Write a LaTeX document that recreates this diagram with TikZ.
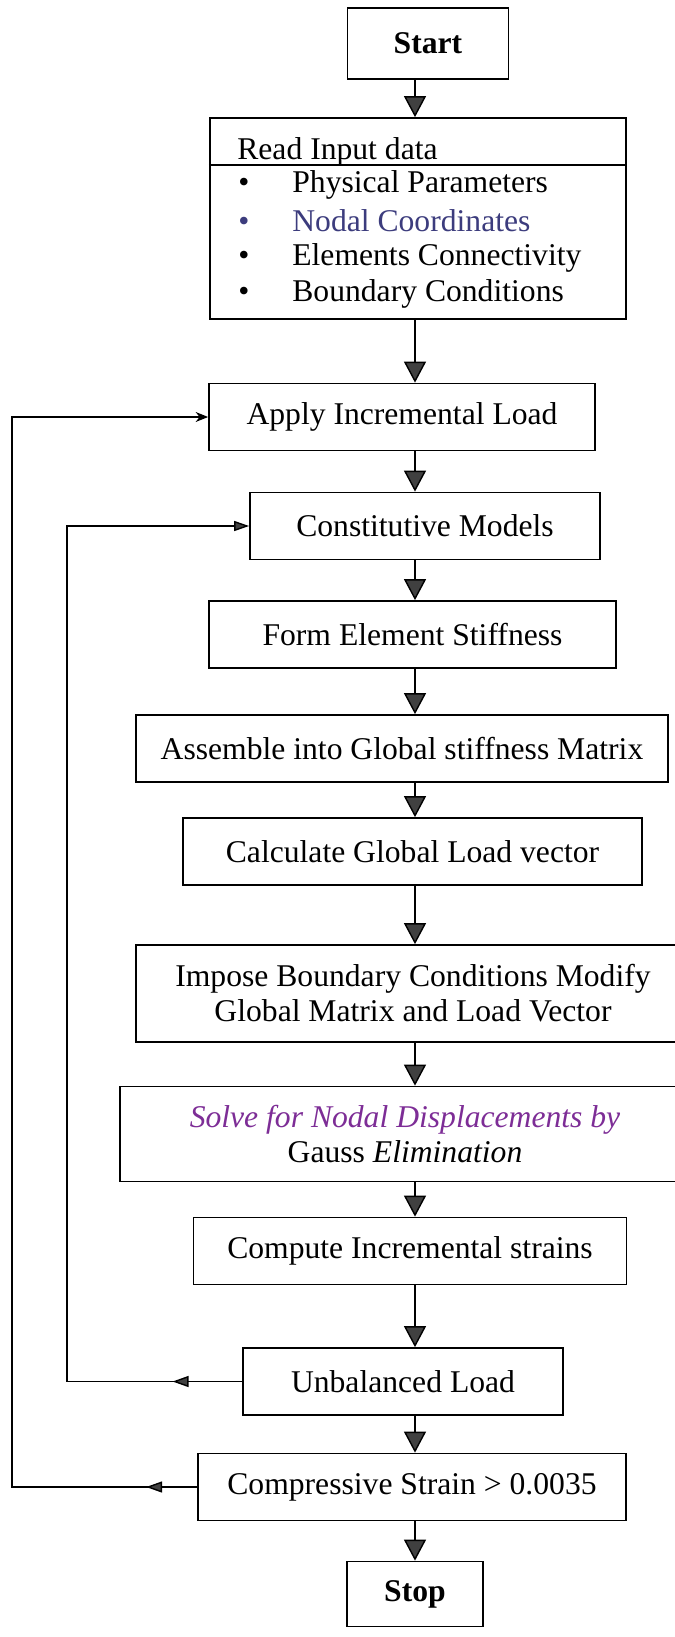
\documentclass[tikz,border=0pt]{standalone}
\usepackage{fontspec}
\setmainfont{Liberation Serif}
\usepackage{tikz}
\usetikzlibrary{arrows.meta,decorations.markings}

\definecolor{arrowgray}{RGB}{64,64,64}
\definecolor{nodalblue}{RGB}{60,60,125}
\definecolor{solvepurple}{RGB}{125,45,150}

\tikzstyle{box} = [draw,line width=1pt,minimum height=1.34cm,align=center,inner sep=2pt,font=\fontsize{18}{20}\selectfont]
\tikzstyle{arrow} = [line width=0.8pt,-{Triangle[width=0.44cm,length=0.42cm,fill=arrowgray]}]
\tikzstyle{backline} = [line width=0.8pt]
\tikzset{backmid/.style={postaction={decorate},decoration={markings,mark=at position #1 with {\arrow{Triangle[width=0.22cm,length=0.32cm,fill=arrowgray]}}}}}

\begin{document}
\begin{tikzpicture}
	\useasboundingbox (0,0) rectangle (13.48,-32.74);

	\node[box,minimum width=3.22cm,minimum height=1.42cm,font=\bfseries\fontsize{18}{20}\selectfont] (start) at (8.56,-0.87) {Start};

	% input data block
	\node[draw,line width=1pt,minimum width=8.33cm,minimum height=4.02cm] (read) at (8.36,-4.37) {};
	\coordinate (sep) at (0,-3.3);
	\draw[line width=1pt] (read.west |- sep) -- (read.east |- sep);
	\node[anchor=base west,inner sep=0pt,font=\fontsize{18}{20}\selectfont] (readhead) at (4.74,-3.2) {Read Input data};
	\node[anchor=west,inner sep=0pt,font=\fontsize{18}{20}\selectfont] (phys) at (4.76,-3.7) {\makebox[1.08cm][l]{\textbullet}Physical Parameters};
	\node[anchor=west,inner sep=0pt,font=\fontsize{18}{20}\selectfont] (nodal) at (4.76,-4.42) {\makebox[1.08cm][l]{\color{nodalblue}\textbullet}\color{nodalblue}Nodal Coordinates};
	\node[anchor=west,inner sep=0pt,font=\fontsize{18}{20}\selectfont] (conn) at (4.76,-5.15) {\makebox[1.08cm][l]{\textbullet}Elements Connectivity};
	\node[anchor=west,inner sep=0pt,font=\fontsize{18}{20}\selectfont] (bound) at (4.76,-5.88) {\makebox[1.08cm][l]{\textbullet}Boundary Conditions};

	\node[box,minimum width=7.72cm] (apply) at (8.04,-8.34) {Apply Incremental Load};
	\node[box,minimum width=7.0cm] (const) at (8.5,-10.52) {Constitutive Models};
	\node[box,minimum width=8.14cm] (form) at (8.25,-12.69) {Form Element Stiffness};
	\node[box,minimum width=10.64cm] (assem) at (8.04,-14.97) {Assemble into Global stiffness Matrix};
	\node[box,minimum width=9.18cm] (calc) at (8.25,-17.03) {Calculate Global Load vector};
	\node[box,minimum width=11.08cm,minimum height=1.94cm] (impose) at (8.26,-19.87) {Impose Boundary Conditions Modify\\Global Matrix and Load Vector};
	\node[box,minimum width=11.4cm,minimum height=1.9cm] (solve) at (8.1,-22.68) {\textit{\color{solvepurple}Solve for Nodal Displacements by}\\Gauss \textit{Elimination}};
	\node[box,minimum width=8.66cm] (compute) at (8.2,-25.02) {Compute Incremental strains};
	\node[box,minimum width=6.4cm] (unbal) at (8.06,-27.63) {Unbalanced Load};
	\node[box,minimum width=8.56cm] (compr) at (8.24,-29.74) {Compressive Strain > 0.0035};
	\node[box,minimum width=2.72cm,minimum height=1.3cm,font=\bfseries\fontsize{18}{20}\selectfont] (stop) at (8.3,-31.88) {Stop};

	% main flow
	\coordinate (spine) at (8.3,0);
	\draw[arrow] (start.south -| spine) -- (read.north -| spine);
	\draw[arrow] (read.south -| spine) -- (apply.north -| spine);
	\draw[arrow] (apply.south -| spine) -- (const.north -| spine);
	\draw[arrow] (const.south -| spine) -- (form.north -| spine);
	\draw[arrow] (form.south -| spine) -- (assem.north -| spine);
	\draw[arrow] (assem.south -| spine) -- (calc.north -| spine);
	\draw[arrow] (calc.south -| spine) -- (impose.north -| spine);
	\draw[arrow] (impose.south -| spine) -- (solve.north -| spine);
	\draw[arrow] (solve.south -| spine) -- (compute.north -| spine);
	\draw[arrow] (compute.south -| spine) -- (unbal.north -| spine);
	\draw[arrow] (unbal.south -| spine) -- (compr.north -| spine);
	\draw[arrow] (compr.south -| spine) -- (stop.north -| spine);

	% iteration loops
	\coordinate (backin) at (1.34,0);
	\coordinate (backout) at (0.24,0);
	\draw[backline,backmid=1.39cm,-{Triangle[width=0.2cm,length=0.3cm,fill=arrowgray]}] (unbal.west) -- (unbal.west -| backin) |- (const.west);
	\draw[backline,backmid=1.02cm,-{Stealth[width=0.2cm,length=0.25cm]}] (compr.west) -- (compr.west -| backout) |- (apply.west);
\end{tikzpicture}
\end{document}
